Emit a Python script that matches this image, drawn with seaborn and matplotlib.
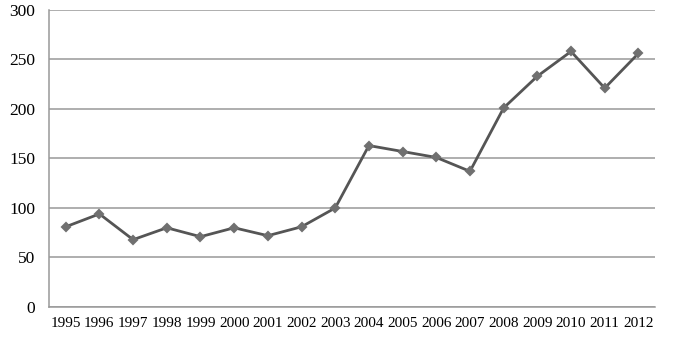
import matplotlib
matplotlib.use("Agg")
import matplotlib.pyplot as plt
import seaborn as sns
import pandas as pd

years = ["1995", "1996", "1997", "1998", "1999", "2000", "2001", "2002", "2003",
         "2004", "2005", "2006", "2007", "2008", "2009", "2010", "2011", "2012"]
values = [81, 94, 68, 80, 71, 80, 72, 81, 100,
          163, 157, 151, 137, 201, 233, 258, 221, 256]
yticks = [0, 50, 100, 150, 200, 250, 300]

df = pd.DataFrame({"year": years, "value": values})

sns.set_style("white")
plt.rcParams["font.family"] = ["Liberation Serif", "DejaVu Serif"]

fig = plt.figure(figsize=(6.79, 3.40), dpi=100)
ax = fig.add_axes([0.072, 0.097, 0.893, 0.874])

sns.pointplot(data=df, x="year", y="value", ax=ax, color="#555555",
              markers="D", linewidth=2, markersize=4, errorbar=None)
for coll in ax.collections:
    coll.set_facecolor("#707070")
    coll.set_edgecolor("#707070")
for line in ax.lines:
    line.set_markerfacecolor("#707070")
    line.set_markeredgecolor("#707070")

ax.set_ylim(0, 300)
ax.set_xlim(-0.5, len(years) - 0.5)
ax.set_yticks(yticks)
ax.set_yticklabels([str(v) for v in yticks])
ax.yaxis.grid(True, color="#999999", linewidth=1.1)
ax.set_axisbelow(True)
ax.set_xlabel("")
ax.set_ylabel("")
for s in ["top", "right"]:
    ax.spines[s].set_visible(False)
for s in ["left", "bottom"]:
    ax.spines[s].set_color("#999999")
    ax.spines[s].set_linewidth(1.1)
ax.tick_params(axis="both", length=0, colors="black")
ax.tick_params(axis="y", pad=10, labelsize=12.5)
ax.tick_params(axis="x", pad=7.5, labelsize=11)

fig.savefig("out.png", dpi=100)
